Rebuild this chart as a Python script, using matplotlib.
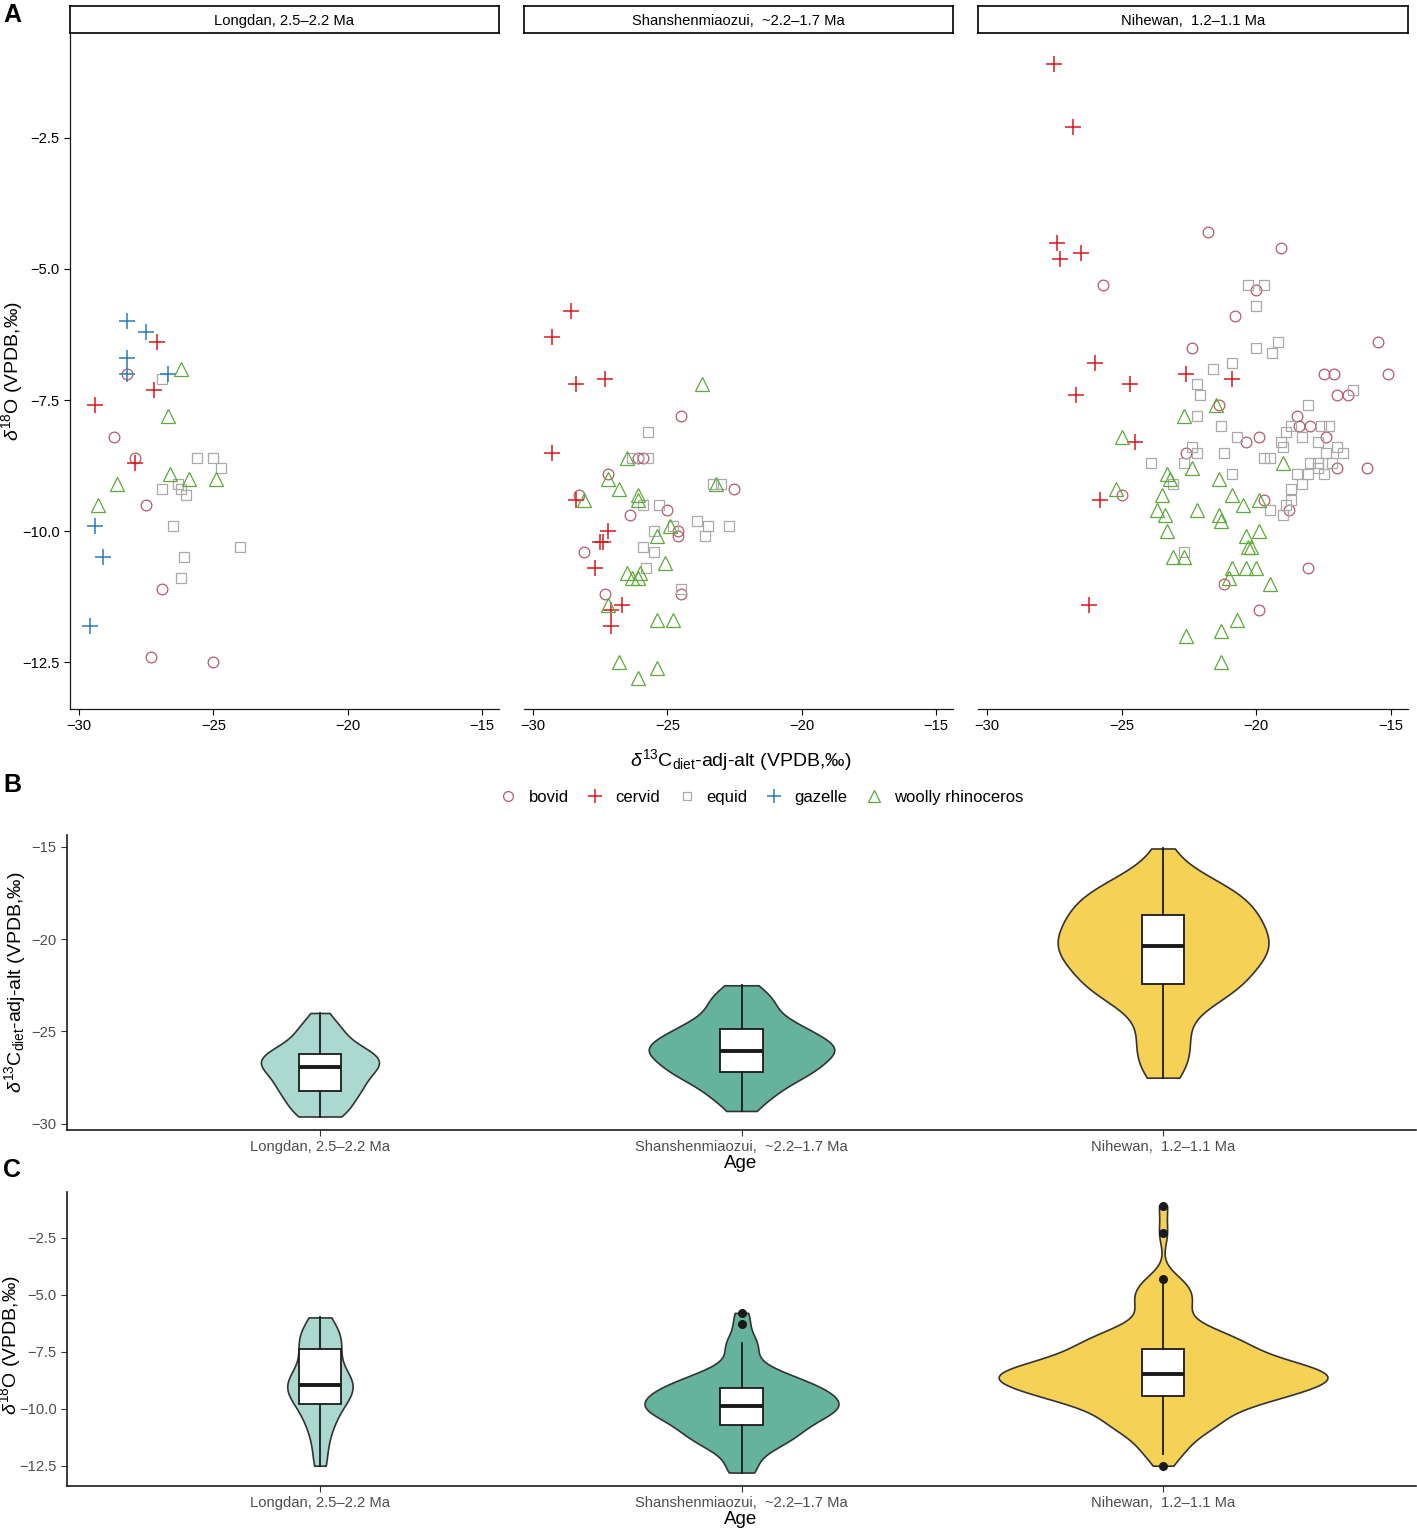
import numpy as np
import matplotlib
matplotlib.use("Agg")
import matplotlib.pyplot as plt
from matplotlib.lines import Line2D

plt.rcParams['font.family'] = ['Liberation Sans', 'DejaVu Sans']
plt.rcParams['mathtext.fontset'] = 'custom'
plt.rcParams['mathtext.rm'] = 'Liberation Sans'
plt.rcParams['mathtext.it'] = 'Liberation Sans:italic'
plt.rcParams['mathtext.bf'] = 'Liberation Sans:bold'

# ---------------- data ----------------
SITES = ["Longdan, 2.5\u20132.2 Ma", "Shanshenmiaozui,  ~2.2\u20131.7 Ma", "Nihewan,  1.2\u20131.1 Ma"]
TAXA = ["bovid", "cervid", "equid", "gazelle", "woolly rhinoceros"]

# Longdan
LD_BOVID_C = [-28.2, -28.7, -27.9, -27.5, -26.9, -27.3, -25.0]
LD_BOVID_O = [-7.0, -8.2, -8.6, -9.5, -11.1, -12.4, -12.5]
LD_CERVID_C = [-27.1, -27.2, -29.4, -27.9]
LD_CERVID_O = [-6.4, -7.3, -7.6, -8.7]
LD_EQUID_C = [-26.9, -25.6, -25.0, -24.7, -26.3, -26.9, -26.2, -26.0, -26.5, -26.1, -26.2, -24.0]
LD_EQUID_O = [-7.1, -8.6, -8.6, -8.8, -9.1, -9.2, -9.2, -9.3, -9.9, -10.5, -10.9, -10.3]
LD_GAZELLE_C = [-28.2, -27.5, -28.2, -28.2, -26.7, -29.4, -29.1, -29.6]
LD_GAZELLE_O = [-6.0, -6.2, -6.7, -7.0, -7.0, -9.9, -10.5, -11.8]
LD_RHINO_C = [-26.2, -26.7, -26.6, -25.9, -24.9, -28.6, -29.3]
LD_RHINO_O = [-6.9, -7.8, -8.9, -9.0, -9.0, -9.1, -9.5]

# Shanshenmiaozui
SS_BOVID_C = [-24.5, -26.1, -25.9, -27.2, -28.3, -22.5, -25.0, -26.4, -24.6, -24.6, -28.1, -27.3, -24.5]
SS_BOVID_O = [-7.8, -8.6, -8.6, -8.9, -9.3, -9.2, -9.6, -9.7, -10.0, -10.1, -10.4, -11.2, -11.2]
SS_CERVID_C = [-28.6, -29.3, -28.4, -27.3, -29.3, -28.4, -27.2, -27.4, -27.5, -27.7, -26.7, -27.1, -27.1]
SS_CERVID_O = [-5.8, -6.3, -7.2, -7.1, -8.5, -9.4, -10.0, -10.2, -10.2, -10.7, -11.4, -11.5, -11.8]
SS_EQUID_C = [-25.7, -26.3, -25.7, -23.3, -23.0, -25.9, -25.3, -23.9, -23.5, -22.7, -23.6, -25.5,
              -24.8, -25.9, -25.5, -25.8, -24.5]
SS_EQUID_O = [-8.1, -8.6, -8.6, -9.1, -9.1, -9.5, -9.5, -9.8, -9.9, -9.9, -10.1, -10.0,
              -9.9, -10.3, -10.4, -10.7, -11.1]
SS_RHINO_C = [-23.7, -26.5, -27.2, -26.8, -26.1, -26.1, -28.1, -23.2, -24.9, -25.4, -25.1, -26.5,
              -26.3, -26.0, -26.1, -27.2, -25.4, -24.8, -26.8, -25.4, -26.1]
SS_RHINO_O = [-7.2, -8.6, -9.0, -9.2, -9.3, -9.4, -9.4, -9.1, -9.9, -10.1, -10.6, -10.8,
              -10.9, -10.8, -10.9, -11.4, -11.7, -11.7, -12.5, -12.6, -12.8]

# Nihewan
NH_BOVID_C = [-21.8, -19.1, -25.7, -20.0, -20.8, -22.4, -15.5, -17.5, -17.1, -15.1, -17.0, -16.6,
              -21.4, -18.5, -18.4, -18.0, -17.4, -19.9, -20.4, -22.6, -17.0, -15.9, -25.0, -19.7,
              -18.8, -18.1, -21.2, -19.9]
NH_BOVID_O = [-4.3, -4.6, -5.3, -5.4, -5.9, -6.5, -6.4, -7.0, -7.0, -7.0, -7.4, -7.4,
              -7.6, -7.8, -8.0, -8.0, -8.2, -8.2, -8.3, -8.5, -8.8, -8.8, -9.3, -9.4,
              -9.6, -10.7, -11.0, -11.5]
NH_CERVID_C = [-27.5, -26.8, -27.4, -27.3, -26.5, -26.0, -26.7, -24.7, -22.6, -20.9, -24.5, -25.8, -26.2]
NH_CERVID_O = [-1.1, -2.3, -4.5, -4.8, -4.7, -6.8, -7.4, -7.2, -7.0, -7.1, -8.3, -9.4, -11.4]
NH_EQUID_C = [-20.3, -19.7, -20.0, -20.0, -19.2, -19.4, -21.6, -20.9, -22.2, -22.1, -16.4, -18.1,
              -22.2, -21.3, -18.7, -17.6, -17.3, -18.9, -18.3, -20.7, -19.1, -19.0, -17.7, -22.4,
              -22.2, -21.2, -17.4, -17.0, -16.8, -19.7, -19.5, -23.9, -22.7, -18.0, -17.7, -17.2,
              -17.7, -17.5, -18.5, -18.1, -20.9, -23.1, -18.3, -18.7, -18.7, -18.9, -19.5, -19.0,
              -22.7]
NH_EQUID_O = [-5.3, -5.3, -5.7, -6.5, -6.4, -6.6, -6.9, -6.8, -7.2, -7.4, -7.3, -7.6,
              -7.8, -8.0, -8.0, -8.0, -8.0, -8.1, -8.2, -8.2, -8.3, -8.4, -8.3, -8.4,
              -8.5, -8.5, -8.5, -8.4, -8.5, -8.6, -8.6, -8.7, -8.7, -8.7, -8.7, -8.7,
              -8.8, -8.9, -8.9, -8.9, -8.9, -9.1, -9.1, -9.2, -9.4, -9.5, -9.6, -9.7,
              -10.4]
NH_RHINO_C = [-21.5, -22.7, -25.0, -19.0, -22.4, -23.3, -23.2, -21.4, -25.2, -23.5, -20.9, -20.5,
              -19.9, -23.7, -22.2, -23.4, -21.4, -21.3, -23.3, -19.9, -20.4, -20.3, -20.2, -23.1,
              -22.7, -20.9, -20.4, -20.0, -21.0, -19.5, -20.7, -21.3, -22.6, -21.3]
NH_RHINO_O = [-7.6, -7.8, -8.2, -8.7, -8.8, -8.9, -9.0, -9.0, -9.2, -9.3, -9.3, -9.5,
              -9.4, -9.6, -9.6, -9.7, -9.7, -9.8, -10.0, -10.0, -10.1, -10.3, -10.3, -10.5,
              -10.5, -10.7, -10.7, -10.7, -10.9, -11.0, -11.7, -11.9, -12.0, -12.5]

SITE_DATA = [
    {"bovid": (LD_BOVID_C, LD_BOVID_O), "cervid": (LD_CERVID_C, LD_CERVID_O),
     "equid": (LD_EQUID_C, LD_EQUID_O), "gazelle": (LD_GAZELLE_C, LD_GAZELLE_O),
     "woolly rhinoceros": (LD_RHINO_C, LD_RHINO_O)},
    {"bovid": (SS_BOVID_C, SS_BOVID_O), "cervid": (SS_CERVID_C, SS_CERVID_O),
     "equid": (SS_EQUID_C, SS_EQUID_O), "woolly rhinoceros": (SS_RHINO_C, SS_RHINO_O)},
    {"bovid": (NH_BOVID_C, NH_BOVID_O), "cervid": (NH_CERVID_C, NH_CERVID_O),
     "equid": (NH_EQUID_C, NH_EQUID_O), "woolly rhinoceros": (NH_RHINO_C, NH_RHINO_O)},
]

# ---------------- styles ----------------
TAXON_STYLE = {
    "bovid": dict(marker='o', color='#B65A6E', ms=7.7, mfc='none', mew=0.9),
    "cervid": dict(marker='+', color='#D7191C', ms=11, mew=1.1),
    "equid": dict(marker='s', color='#A9A9A9', ms=6.6, mfc='none', mew=0.9),
    "gazelle": dict(marker='+', color='#2C7BB6', ms=11, mew=1.1),
    "woolly rhinoceros": dict(marker='^', color='#5FA83A', ms=9.5, mfc='none', mew=0.9),
}
VIOLIN_COLORS = ['#ABD9CF', '#66B39D', '#F5D155']
WIDTHS_B = [0.28, 0.44, 0.50]
WIDTHS_C = [0.155, 0.46, 0.78]

W, H = 1417, 1529
fig = plt.figure(figsize=(W / 100, H / 100), dpi=100)


def ax_px(x0, y0, x1, y1):
    return fig.add_axes([x0 / W, 1 - y1 / H, (x1 - x0) / W, (y1 - y0) / H])


TICK_FS = 10.6
LABEL_FS = 14
AXCOL = '#1a1a1a'

# ---------------- panel A ----------------
facets = [(70, 499), (524, 953), (978, 1408)]
for i, (x0, x1) in enumerate(facets):
    ax = ax_px(x0, 33, x1, 709)
    for taxon in TAXA:
        if taxon in SITE_DATA[i]:
            xs, ys = SITE_DATA[i][taxon]
            st = TAXON_STYLE[taxon]
            ax.plot(xs, ys, linestyle='none', marker=st['marker'], color=st['color'],
                    ms=st['ms'], mfc=st.get('mfc', st['color']), mew=st['mew'])
    ax.set_xlim(-30.33, -14.37)
    ax.set_ylim(-13.39, -0.50)
    ax.set_xticks([-30, -25, -20, -15])
    ax.set_yticks([-2.5, -5.0, -7.5, -10.0, -12.5])
    for s in ['top', 'right']:
        ax.spines[s].set_visible(False)
    ax.spines['bottom'].set_color(AXCOL)
    ax.spines['bottom'].set_linewidth(0.9)
    ax.spines['left'].set_color(AXCOL)
    ax.spines['left'].set_linewidth(0.9)
    ax.tick_params(labelsize=TICK_FS, colors='black', length=4, width=0.8)
    if i > 0:
        ax.spines['left'].set_visible(False)
        ax.tick_params(axis='y', left=False, labelleft=False)
    # strip
    sax = ax_px(x0, 6, x1, 33)
    sax.set_xticks([])
    sax.set_yticks([])
    for s in sax.spines.values():
        s.set_linewidth(1.2)
        s.set_color('black')
    sax.text(0.5, 0.45, SITES[i], ha='center', va='center', fontsize=TICK_FS,
             transform=sax.transAxes)

fig.text(12 / W, 1 - 371 / H, r'$\delta^{18}$O (VPDB,‰)', rotation=90,
         ha='center', va='center', fontsize=LABEL_FS)
fig.text(741 / W, 1 - 760 / H, r'$\delta^{13}$C$_{\rm diet}$-adj-alt (VPDB,‰)',
         ha='center', va='center', fontsize=LABEL_FS)

handles = []
for taxon in TAXA:
    st = TAXON_STYLE[taxon]
    handles.append(Line2D([], [], linestyle='none', marker=st['marker'], color=st['color'],
                          ms=st['ms'] * 0.92, mfc=st.get('mfc', st['color']), mew=st['mew']))
fig.legend(handles, TAXA, loc='center', bbox_to_anchor=(761 / W, 1 - 797 / H), ncol=5,
           frameon=False, fontsize=12, handletextpad=0.6, columnspacing=1.0,
           handlelength=1.2, borderaxespad=0)

# ---------------- panels B, C ----------------


def nrd0(kde):
    d = np.asarray(kde.dataset).ravel()
    sd = d.std(ddof=1)
    q75, q25 = np.percentile(d, [75, 25])
    lo = min(sd, (q75 - q25) / 1.34)
    bw = 0.9 * lo * len(d) ** -0.2
    return bw / sd


def collect(site, idx):
    vals = []
    for taxon in TAXA:
        if taxon in SITE_DATA[site]:
            vals += list(SITE_DATA[site][taxon][idx])
    return np.array(vals)


def violin_panel(ax, datasets, widths):
    vp = ax.violinplot(datasets, positions=[1, 2, 3], widths=widths, showmeans=False,
                       showmedians=False, showextrema=False, points=512, bw_method=nrd0)
    for body, col in zip(vp['bodies'], VIOLIN_COLORS):
        body.set_facecolor(col)
        body.set_edgecolor('#333333')
        body.set_linewidth(1.2)
        body.set_alpha(1)
        body.set_zorder(1)
    ax.boxplot(datasets, positions=[1, 2, 3], widths=0.1, patch_artist=True, showcaps=False,
               boxprops=dict(facecolor='white', edgecolor=AXCOL, linewidth=1.3),
               medianprops=dict(color=AXCOL, linewidth=2.8),
               whiskerprops=dict(color=AXCOL, linewidth=1.3),
               flierprops=dict(marker='o', markerfacecolor=AXCOL, markeredgecolor=AXCOL,
                               markersize=5.5),
               zorder=3)
    ax.set_xlim(0.4, 3.6)
    ax.set_xticks([1, 2, 3])
    ax.set_xticklabels(SITES)
    for s in ['top', 'right']:
        ax.spines[s].set_visible(False)
    for s in ['bottom', 'left']:
        ax.spines[s].set_color(AXCOL)
        ax.spines[s].set_linewidth(1.2)
    ax.tick_params(labelsize=TICK_FS, colors='#333333', labelcolor='#4D4D4D', length=4, width=0.8)


axB = ax_px(67, 835, 1416, 1130)
violin_panel(axB, [collect(s, 0) for s in range(3)], WIDTHS_B)
axB.set_ylim(-30.33, -14.37)
axB.set_yticks([-15, -20, -25, -30])
fig.text(741 / W, 1 - 1164 / H, 'Age', ha='center', va='center', fontsize=13.5)
fig.text(15 / W, 1 - 982 / H, r'$\delta^{13}$C$_{\rm diet}$-adj-alt (VPDB,‰)', rotation=90,
         ha='center', va='center', fontsize=LABEL_FS)

axC = ax_px(67, 1192, 1416, 1486)
violin_panel(axC, [collect(s, 1) for s in range(3)], WIDTHS_C)
axC.set_ylim(-13.39, -0.50)
axC.set_yticks([-2.5, -5.0, -7.5, -10.0, -12.5])
fig.text(741 / W, 1 - 1519 / H, 'Age', ha='center', va='center', fontsize=13.5)
fig.text(10 / W, 1 - 1345 / H, r'$\delta^{18}$O (VPDB,‰)', rotation=90,
         ha='center', va='center', fontsize=LABEL_FS)

for lab, y in [('A', 15), ('B', 785), ('C', 1170)]:
    fig.text(12 / W, 1 - y / H, lab, ha='center', va='center', fontsize=18, fontweight='bold')

fig.savefig('out.png', dpi=100)
